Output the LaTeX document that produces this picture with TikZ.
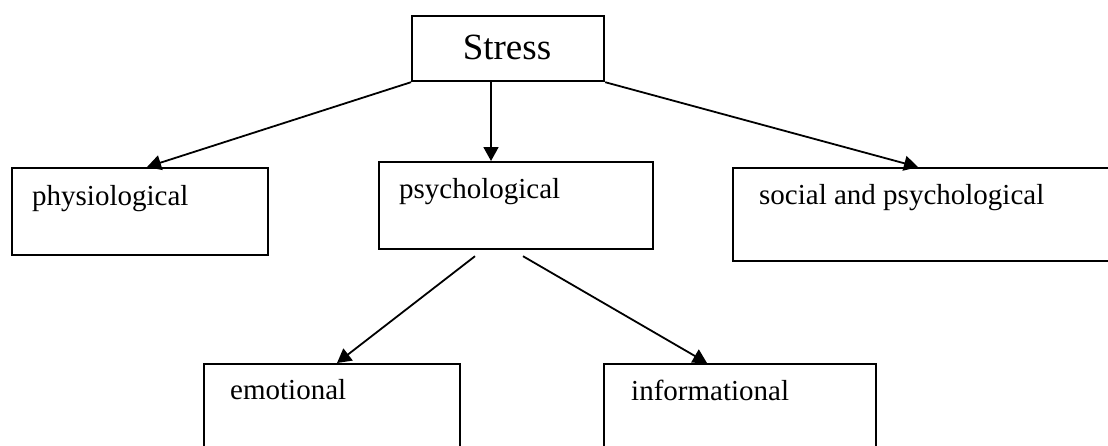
\documentclass[tikz,border=0pt]{standalone}
\usepackage{fontspec}
\setmainfont{Liberation Serif}
\usetikzlibrary{arrows.meta}
\tikzset{
  box/.style={draw=black, line width=2.2pt, rectangle, inner sep=0pt, anchor=north west},
  lbl/.style={anchor=base west, inner sep=0pt, font=\fontsize{29}{34}\selectfont},
  arr/.style={line width=1.8pt, -{Triangle[length=14pt,width=15pt]}}
}
\begin{document}
\begin{tikzpicture}[x=1pt,y=-1pt]
\clip (0,0) rectangle (1108,445);
\node[box, minimum width=192pt, minimum height=65pt] (stress) at (411,15) {};
\node[anchor=center, inner sep=0pt, font=\fontsize{37}{42}\selectfont] (stresst) at (507,47.5) {Stress};
\node[box, minimum width=256pt, minimum height=87pt] (phys) at (11,167) {};
\node[lbl] (physt) at (32,205) {physiological};
\node[box, minimum width=274pt, minimum height=87pt] (psych) at (378,161) {};
\node[lbl] (psycht) at (399,198) {psychological};
\node[box, minimum width=420pt, minimum height=93pt] (social) at (732,167) {};
\node[lbl] (socialt) at (759,204) {social and psychological};
\node[box, minimum width=256pt, minimum height=120pt] (emo) at (203,363) {};
\node[lbl] (emot) at (230,399) {emotional};
\node[box, minimum width=272pt, minimum height=120pt] (info) at (603,363) {};
\node[lbl] (infot) at (631,400) {informational};
\draw[arr] (stress.south west) -- ([xshift=136pt]phys.north west);
\draw[arr] ([xshift=80pt]stress.south west) -- ([xshift=113pt]psych.north west);
\draw[arr] (stress.south east) -- ([xshift=186pt]social.north west);
\draw[arr] ([xshift=97pt,yshift=-6pt]psych.south west) -- ([xshift=134pt]emo.north west);
\draw[arr] ([xshift=145pt,yshift=-6pt]psych.south west) -- ([xshift=104pt]info.north west);
\end{tikzpicture}
\end{document}
